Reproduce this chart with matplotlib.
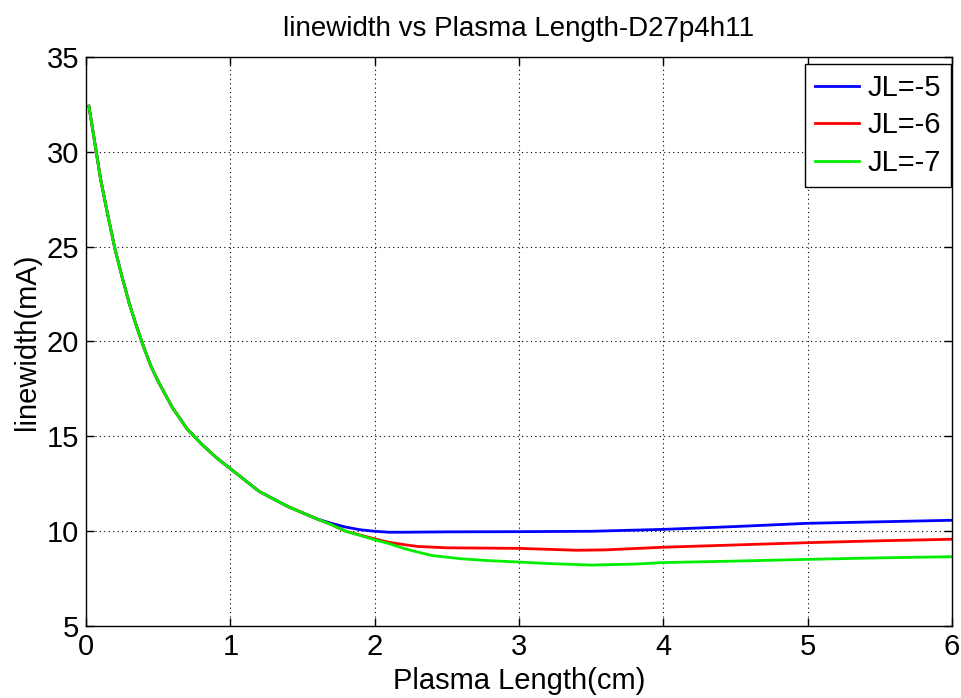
import matplotlib
matplotlib.use("Agg")
import matplotlib.pyplot as plt
import numpy as np

plt.rcParams['font.family'] = ['Liberation Sans', 'DejaVu Sans']

# common part of the curve (all three series coincide here)
x_common = [0.02, 0.05, 0.1, 0.15, 0.2, 0.25, 0.3, 0.35, 0.4, 0.45, 0.5, 0.6, 0.7, 0.8, 0.9, 1.0, 1.2, 1.4, 1.6]
y_common = [32.4, 31.0, 28.6, 26.7, 24.9, 23.4, 22.0, 20.8, 19.7, 18.7, 17.9, 16.5, 15.4, 14.6, 13.9, 13.3, 12.1, 11.3, 10.65]

x_blue_tail = [1.7, 1.8, 1.9, 2.0, 2.1, 2.2, 2.5, 3.0, 3.5, 4.0, 4.5, 5.0, 5.5, 6.0]
y_blue_tail = [10.42, 10.22, 10.08, 10.0, 9.95, 9.95, 9.97, 9.98, 10.0, 10.1, 10.25, 10.42, 10.5, 10.58]

x_red_tail = [1.7, 1.8, 1.9, 2.0, 2.1, 2.2, 2.3, 2.5, 3.0, 3.4, 3.6, 4.0, 4.5, 5.0, 5.5, 6.0]
y_red_tail = [10.35, 10.0, 9.8, 9.6, 9.42, 9.3, 9.2, 9.13, 9.1, 9.0, 9.02, 9.16, 9.28, 9.40, 9.5, 9.58]

x_green_tail = [1.7, 1.8, 1.9, 2.0, 2.1, 2.2, 2.3, 2.4, 2.6, 2.8, 3.0, 3.2, 3.5, 3.8, 4.0, 4.5, 5.0, 5.5, 6.0]
y_green_tail = [10.35, 10.0, 9.78, 9.55, 9.35, 9.1, 8.9, 8.72, 8.55, 8.45, 8.38, 8.3, 8.22, 8.27, 8.35, 8.43, 8.52, 8.6, 8.66]

labels = ['JL=-5', 'JL=-6', 'JL=-7']
colors = ['#0000ff', '#ff0000', '#00ee00']

series = [
    (x_common + x_blue_tail, y_common + y_blue_tail),
    (x_common + x_red_tail, y_common + y_red_tail),
    (x_common + x_green_tail, y_common + y_green_tail),
]

fig = plt.figure(figsize=(9.62, 6.98), dpi=100)
ax = fig.add_axes([0.0894, 0.1029, 0.9002, 0.8157])

for (xs, ys), lab, c in zip(series, labels, colors):
    ax.plot(xs, ys, color=c, lw=2.0, label=lab)

ax.set_xlim(0, 6)
ax.set_ylim(5, 35)
ax.set_xticks(range(0, 7))
ax.set_yticks(range(5, 36, 5))
ax.tick_params(direction='in', length=6, width=1, top=True, right=True,
               labelsize=21, pad=5)
ax.grid(True, color='black', linestyle=(0, (1, 3)), linewidth=0.8)
for s in ax.spines.values():
    s.set_linewidth(1.0)

ax.set_title('linewidth vs Plasma Length-D27p4h11', fontsize=20, pad=15)
ax.set_xlabel('Plasma Length(cm)', fontsize=21, labelpad=4)
ax.set_ylabel('linewidth(mA)', fontsize=21, labelpad=4)

leg = ax.legend(loc='upper right', bbox_to_anchor=(0.999, 0.988),
                fontsize=21, frameon=True, fancybox=False,
                edgecolor='black', framealpha=1, borderaxespad=0.0,
                handlelength=1.5, handletextpad=0.3, labelspacing=0.33,
                borderpad=0.35)
leg.get_frame().set_linewidth(1.0)

fig.savefig('out.png', dpi=100)
